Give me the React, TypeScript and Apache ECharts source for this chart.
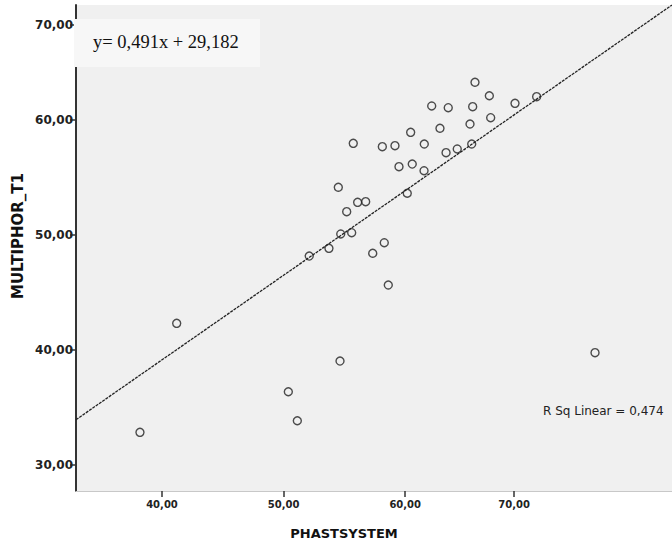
import React, { useEffect, useRef } from "react";
import * as echarts from "echarts";

// Observed cases (x = PHASTSYSTEM, y = MULTIPHOR_T1)
const phastSystem = [65.74, 66.92, 69.03, 70.81, 62.18, 63.54, 65.55, 67.03, 65.33, 62.86, 60.45, 61.57, 63.36, 64.28, 65.47, 60.58, 61.55, 59.49, 55.73, 58.12, 59.16, 54.5, 56.09, 56.75, 55.19, 60.17, 54.7, 55.6, 53.73, 52.11, 58.28, 57.33, 58.61, 41.21, 38.19, 54.64, 50.39, 51.13, 75.61];
const multiphorT1 = [63.28, 62.11, 61.45, 62.03, 61.22, 61.07, 61.16, 60.2, 59.65, 59.28, 58.93, 57.91, 57.16, 57.48, 57.91, 56.17, 55.59, 55.94, 57.97, 57.68, 57.77, 54.15, 52.84, 52.9, 52.03, 53.63, 50.09, 50.2, 48.84, 48.17, 49.33, 48.41, 45.65, 42.32, 32.84, 39.04, 36.37, 33.85, 39.77];

// Fit line as drawn (endpoints at the plot edges)
const fitLineX = [32.93, 81.94];
const fitLineY = [33.94, 70.0];

// Axis extents and ticks as drawn
const xRange = [32.93, 81.94];
const yRange = [27.74, 70.0];
const xTickValues = [40, 50, 60, 68.95];
const xTickLabels = ["40,00", "50,00", "60,00", "70,00"];
const yTickValues = [30, 40, 50, 60, 68.26];
const yTickLabels = ["30,00", "40,00", "50,00", "60,00", "70,00"];

const equationText = "y= 0,491x + 29,182";
const rSqText = "R Sq Linear = 0,474";
const xName = "PHASTSYSTEM";
const yName = "MULTIPHOR_T1";

function labelFor(values: number[], labels: string[]) {
  return (v: number) => {
    let best = 0;
    for (let i = 1; i < values.length; i++) {
      if (Math.abs(values[i] - v) < Math.abs(values[best] - v)) best = i;
    }
    return labels[best];
  };
}

export default function App() {
  const ref = useRef<HTMLDivElement>(null);
  useEffect(() => {
    if (!ref.current) return;
    const chart = echarts.init(ref.current, null, { renderer: "svg" });
    const points = phastSystem.map((x, i) => [x, multiphorT1[i]]);
    const line = fitLineX.map((x, i) => [x, fitLineY[i]]);
    chart.setOption({
      animation: false,
      backgroundColor: "#ffffff",
      grid: {
        left: 76,
        top: 5,
        right: 0,
        bottom: 55,
        show: true,
        backgroundColor: "#f0f0f0",
        borderWidth: 0,
      },
      xAxis: {
        type: "value",
        min: xRange[0],
        max: xRange[1],
        axisLine: { show: true, onZero: false, lineStyle: { color: "#c8c8c8", width: 1 } },
        axisTick: {
          show: true,
          length: 6,
          customValues: xTickValues,
          lineStyle: { color: "#333", width: 1.5 },
        },
        axisLabel: {
          customValues: xTickValues,
          formatter: labelFor(xTickValues, xTickLabels),
          color: "#222",
          fontFamily: "DejaVu Sans",
          fontWeight: "bold",
          fontSize: 10,
          margin: 8,
        },
        splitLine: { show: false },
      },
      yAxis: {
        type: "value",
        min: yRange[0],
        max: yRange[1],
        axisLine: { show: true, onZero: false, lineStyle: { color: "#333", width: 2 } },
        axisTick: {
          show: true,
          length: 6,
          customValues: yTickValues,
          lineStyle: { color: "#333", width: 1.5 },
        },
        axisLabel: {
          customValues: yTickValues,
          formatter: labelFor(yTickValues, yTickLabels),
          color: "#222",
          fontFamily: "DejaVu Sans",
          fontWeight: "bold",
          fontSize: 12,
          margin: 3,
        },
        splitLine: { show: false },
      },
      series: [
        {
          type: "line",
          data: line,
          symbol: "none",
          lineStyle: { color: "#222", width: 1.3, type: [3, 1] },
          z: 2,
        },
        {
          type: "scatter",
          data: points,
          symbol: "circle",
          symbolSize: 8,
          itemStyle: { color: "rgba(0,0,0,0)", borderColor: "#222", borderWidth: 1.4 },
          z: 3,
        },
      ],
      graphic: [
        {
          type: "rect",
          z: 100,
          shape: { x: 74, y: 19, width: 186, height: 48 },
          style: { fill: "#f7f7f7" },
        },
        {
          type: "text",
          z: 101,
          x: 93,
          y: 42,
          style: {
            text: equationText,
            font: "18.5px 'Liberation Serif'",
            fill: "#111",
            verticalAlign: "middle",
          },
        },
        {
          type: "text",
          z: 101,
          x: 543,
          y: 411,
          style: {
            text: rSqText,
            font: "12px 'DejaVu Sans'",
            fill: "#222",
            verticalAlign: "middle",
          },
        },
        {
          type: "text",
          z: 101,
          x: 344,
          y: 533,
          style: {
            text: xName,
            font: "bold 13px 'DejaVu Sans'",
            fill: "#111",
            align: "center",
            verticalAlign: "middle",
          },
        },
        {
          type: "text",
          z: 101,
          x: 18,
          y: 236,
          rotation: Math.PI / 2,
          style: {
            text: yName,
            font: "bold 15px 'DejaVu Sans'",
            fill: "#111",
            align: "center",
            verticalAlign: "middle",
          },
        },
      ],
    });
    return () => chart.dispose();
  }, []);
  return (
    <div
      ref={ref}
      style={{ position: "absolute", left: 0, top: 0, width: 672, height: 546, background: "#fff" }}
    />
  );
}
